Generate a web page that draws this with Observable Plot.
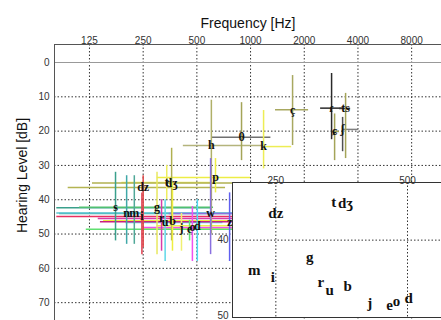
<!DOCTYPE html>
<html><head><meta charset="utf-8">
<script src="https://cdn.jsdelivr.net/npm/d3@7"></script>
<script src="https://cdn.jsdelivr.net/npm/@observablehq/plot@0.6"></script>
<style>
body{margin:0;background:#fff;}
#wrap{position:relative;width:441px;height:320px;overflow:hidden;background:#fff;}
#inset{position:absolute;left:210px;top:166px;}
</style></head><body><div id="wrap"><div id="main"></div><div id="inset"></div></div>
<script>
const tickFreqs = [125, 250, 500, 1000, 2000, 4000, 8000];
const tickLevels = [0, 10, 20, 30, 40, 50, 60, 70];
const insetFreqTicks = [250, 500];
const insetLevelTicks = [40, 50];

const phonemes = ["ç","ɾ","ts","ɕ","ʃ","θ","h","k","p","dz","t","dʒ","s","g","n","m","i","r","u","b","w","z","j","e","o","d"];
const freqHz   = [1720,2846,3410,2959,3281,890,603,1183,636,250,339,361,175,299,202,223,246,317,332,365,597,763,410,455,472,503];
const levelDb  = [13.8,13.3,13.4,20.1,19.5,21.8,24.2,24.5,33.5,36.4,35.0,35.1,42.3,42.2,44.0,43.9,44.9,45.5,46.6,46.1,44.0,46.4,48.3,48.6,48.1,47.6];
const freqLow  = [1380,2470,3150,2850,3280,612,420,1183,300,95,190,130,82,110,85,82,82,140,200,150,350,144,250,120,250,300];
const freqHigh = [2115,3300,3640,3150,4030,1300,1180,1700,1000,724,620,900,600,620,800,793,800,800,700,800,820,900,800,800,800,900];
const levelLow = [3.8,3.2,9,15,16,11.7,11,14,28,33,30,25,32,32,33,33,38,40,40,35,28,38,44,46,42,40];
const levelHigh= [24.2,22.5,28,28.6,26,28.6,50,31,38,54,40,52,52,56,53,53,56,55,58,55,56,58,55,52,58,58];
const hColor = ["#a8a860","#2a2a2a","#3a3a3a","#a4a458","#808080","#707070","#b4b47c","#eded55","#eded45","#b4b452","#efef60","#b0b050","#3aa08c","#50c070","#40a8a8","#58c4d0","#e83060","#d83ca8","#60d8e8","#eeee40","#8a70e0","#c82080","#f0f070","#60e070","#f050f0","#eeee50"];
const vColor = ["#a8a860","#2a2a2a","#a4a458","#a4a458","#505050","#a4a458","#b0b068","#eded55","#eded45","#e04848","#efef60","#b0b050","#3aa08c","#e8e860","#40a8a8","#50a898","#e04050","#d83ca8","#60d8e8","#eeee40","#8a70e0","#6060f0","#f0f070","#60e070","#f050f0","#50d8f0"];

const rows = phonemes.map((p, i) => ({p, f: freqHz[i], db: levelDb[i], f1: freqLow[i], f2: freqHigh[i], d1: levelLow[i], d2: levelHigh[i], hc: hColor[i], vc: vColor[i]}));
const serif = "'Liberation Serif','DejaVu Serif',serif";
const dotted = {stroke: "#333", strokeDasharray: "1.5,2"};
const tickStyle = {fontSize: 10, fill: "#333"};

const main = Plot.plot({
  width: 441, height: 320, marginLeft: 54, marginRight: 0, marginTop: 44, marginBottom: 0,
  style: {fontFamily: "'Liberation Sans',Arial,sans-serif", background: "white", color: "#222"},
  x: {type: "log", domain: [79.6, 11760], axis: null},
  y: {domain: [-5.25, 75.2], reverse: true, axis: null},
  color: {type: "identity"},
  marks: [
    Plot.ruleX(tickFreqs, {x: d => d, ...dotted}),
    Plot.ruleY(tickLevels.filter(d => d !== 0), {y: d => d, ...dotted}),
    Plot.ruleY([0], {y: d => d, stroke: "#999", strokeWidth: 1.2}),
    Plot.ruleY(rows, {y: "db", x1: "f1", x2: "f2", stroke: "hc", strokeWidth: 1.5}),
    Plot.ruleX(rows, {x: "f", y1: "d1", y2: "d2", stroke: "vc", strokeWidth: 1.5}),
    Plot.text(rows, {x: "f", y: "db", text: "p", fontFamily: serif, fontWeight: "bold", fontSize: 12, fill: "#111"}),
    Plot.frame({anchor: "top", stroke: "#555"}),
    Plot.frame({anchor: "left", stroke: "#555"}),
    Plot.text(tickFreqs, {x: d => d, text: d => String(d), frameAnchor: "top", dy: -8, ...tickStyle}),
    Plot.text(tickLevels, {y: d => d, text: d => String(d), frameAnchor: "left", textAnchor: "end", dx: -5, ...tickStyle}),
    Plot.text(["Frequency [Hz]"], {text: d => d, frameAnchor: "top", dy: -26, fontSize: 14, fill: "#111"}),
    Plot.text(["Hearing Level [dB]"], {text: d => d, frameAnchor: "left", rotate: -90, textAnchor: "middle", dx: -32, dy: -7, fontSize: 14, fill: "#111"})
  ]
});
document.getElementById("main").appendChild(main);

const insetRows = rows.filter(r => r.f >= 205 && r.f <= 590 && r.db >= 33 && r.db <= 50);
const inset = Plot.plot({
  width: 231, height: 154, marginLeft: 22, marginRight: 0, marginTop: 16, marginBottom: 3,
  style: {fontFamily: "'Liberation Sans',Arial,sans-serif", background: "transparent", overflow: "visible", color: "#222"},
  x: {type: "log", domain: [199, 598], axis: null},
  y: {domain: [32.4, 50.2], reverse: true, axis: null},
  marks: [
    Plot.frame({fill: "white", stroke: "#333"}),
    Plot.ruleX(insetFreqTicks, {x: d => d, ...dotted}),
    Plot.ruleY([40], {y: d => d, ...dotted}),
    Plot.text(insetRows, {x: "f", y: "db", text: "p", fontFamily: serif, fontWeight: "bold", fontSize: 15, fill: "#111"}),
    Plot.text(insetFreqTicks, {x: d => d, text: d => String(d), frameAnchor: "top", dy: -6, ...tickStyle}),
    Plot.text(insetLevelTicks, {y: d => d, text: d => String(d), frameAnchor: "left", textAnchor: "end", dx: -4, ...tickStyle})
  ]
});
document.getElementById("inset").appendChild(inset);
</script></body></html>
